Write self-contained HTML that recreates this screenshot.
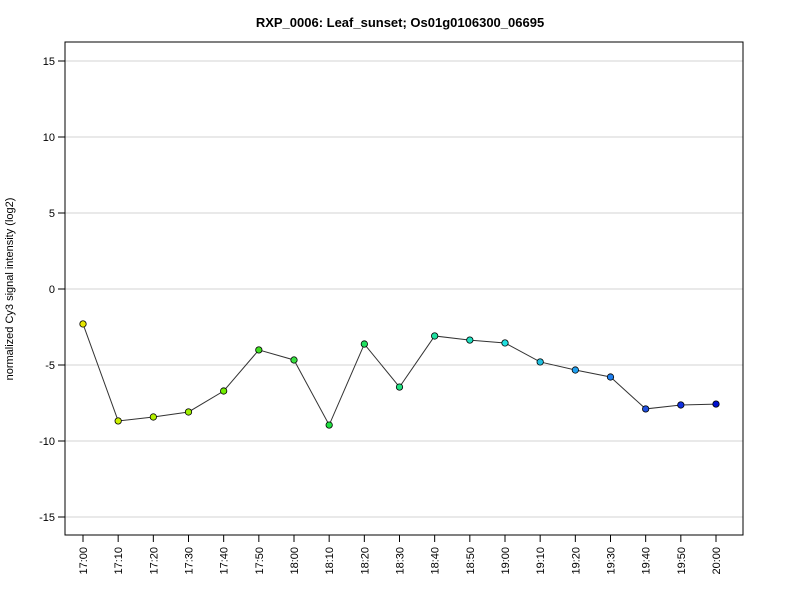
<!DOCTYPE html>
<html><head><meta charset="utf-8"><style>
body{margin:0;background:#fff}
svg text{font-family:"Liberation Sans",Arial,sans-serif}
</style></head><body>
<svg id="chart" width="800" height="600">
<text x="400" y="27" text-anchor="middle" font-size="13" font-weight="bold">RXP_0006: Leaf_sunset; Os01g0106300_06695</text>
<text transform="translate(13,289) rotate(-90)" text-anchor="middle" font-size="11">normalized Cy3 signal intensity (log2)</text>
<g id="grid"></g>
<g id="yaxis"></g>
<g id="xaxis"></g>
<rect x="65" y="42" width="678" height="493" fill="none" stroke="#000"/>
<g id="series"></g>
</svg>
<script>
const categories=["17:00","17:10","17:20","17:30","17:40","17:50","18:00","18:10","18:20","18:30","18:40","18:50","19:00","19:10","19:20","19:30","19:40","19:50","20:00"];
const values=[-2.30,-8.68,-8.42,-8.09,-6.71,-4.01,-4.67,-8.95,-3.62,-6.45,-3.09,-3.36,-3.55,-4.80,-5.33,-5.79,-7.89,-7.63,-7.57];
const colors=["#e6e600","#ccf000","#b4f000","#a0f000","#70ee00","#40e020","#38e040","#20e040","#20e060","#20e080","#20e0a0","#20e0c0","#20e0e0","#20c0e0","#20a0f0","#2080f0","#2050e0","#1030e0","#0010d0"];
const yTicks=[-15,-10,-5,0,5,10,15];
const NS="http://www.w3.org/2000/svg";
function y(v){return 289-v*15.2;}
function x(i){return 83+i*(716-83)/(categories.length-1);}
function mk(t,a,p){const e=document.createElementNS(NS,t);for(const k in a)e.setAttribute(k,a[k]);p.appendChild(e);return e;}
const grid=document.getElementById('grid'),ya=document.getElementById('yaxis'),xa=document.getElementById('xaxis'),se=document.getElementById('series');
yTicks.forEach(v=>{
 const g=mk('line',{x1:65,x2:743,y1:y(v),y2:y(v),stroke:'#d3d3d3'},grid);
 
 
 const t=mk('line',{x1:58,x2:65,y1:y(v),y2:y(v),stroke:'#000'},ya);
 
 
 const l=mk('text',{x:55,y:y(v)+4,'text-anchor':'end','font-size':11},ya);
 l.textContent=v;
 
 
});
categories.forEach((c,i)=>{
 const t=mk('line',{x1:x(i),x2:x(i),y1:535,y2:542,stroke:'#000'},xa);
 
 
 const l=mk('text',{transform:`translate(${x(i)+4},547) rotate(-90)`,'text-anchor':'end','font-size':11},xa);
 l.textContent=c;
 
 
});
const pl=mk('polyline',{points:values.map((v,i)=>x(i)+','+y(v)).join(' '),fill:'none',stroke:'#333','stroke-width':1},se);


values.forEach((v,i)=>{
 const c=mk('circle',{cx:x(i),cy:y(v),r:3.2,fill:colors[i],stroke:'#000','stroke-width':0.8},se);
 
 
});
</script>
</body></html>
